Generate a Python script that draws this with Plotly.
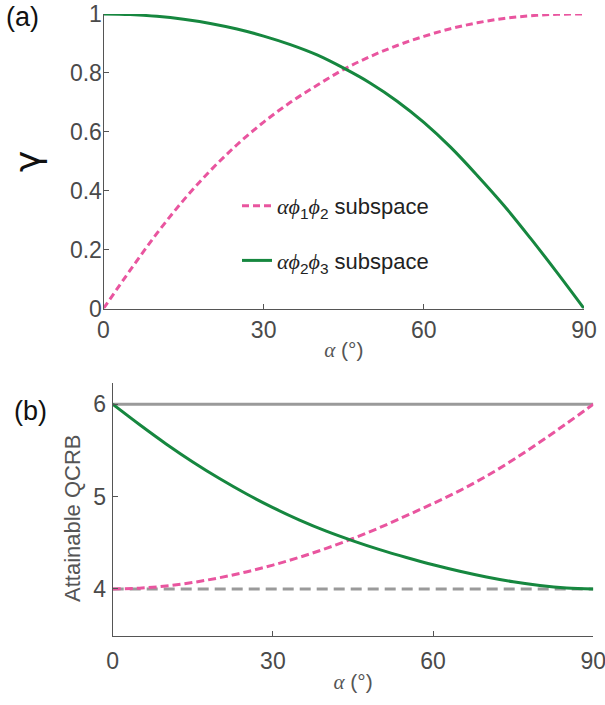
import plotly.graph_objects as go

# ---------------- data ----------------
alpha_deg = [0, 5, 10, 15, 20, 25, 30, 35, 40, 45, 50, 55, 60, 65, 70, 75, 80, 85, 90]

gamma_phi12 = [0.000, 0.130, 0.255, 0.368, 0.468, 0.556, 0.633, 0.700, 0.758, 0.812,
               0.856, 0.893, 0.924, 0.950, 0.970, 0.985, 0.994, 0.999, 1.000]
gamma_phi23 = [1.000, 0.998, 0.992, 0.982, 0.968, 0.949, 0.925, 0.896, 0.861, 0.816,
               0.765, 0.704, 0.632, 0.548, 0.452, 0.350, 0.238, 0.121, 0.000]

qcrb_phi12 = [4.000, 4.008, 4.032, 4.070, 4.121, 4.184, 4.258, 4.343, 4.439, 4.546,
              4.664, 4.793, 4.925, 5.065, 5.222, 5.398, 5.590, 5.792, 6.000]
qcrb_phi23 = [6.000, 5.780, 5.570, 5.375, 5.195, 5.030, 4.880, 4.745, 4.625, 4.520,
              4.425, 4.340, 4.262, 4.192, 4.130, 4.078, 4.038, 4.011, 4.000]

bound_alpha = [0, 90]
qcrb_upper = [6, 6]
qcrb_lower = [4, 4]

x_ticks = [0, 30, 60, 90]
gamma_ticks = [0, 0.2, 0.4, 0.6, 0.8, 1]
gamma_ticklabels = ["0", "0.2", "0.4", "0.6", "0.8", "1"]
qcrb_ticks = [4, 5, 6]

SERIF = "font-family:'Liberation Serif','DejaVu Serif',serif"
name_12 = (f"<span style=\"{SERIF}\"><i>α</i><i>ϕ</i></span><sub>1</sub>"
           f"<span style=\"{SERIF}\"><i>ϕ</i></span><sub>2</sub> subspace")
name_23 = (f"<span style=\"{SERIF}\"><i>α</i><i>ϕ</i></span><sub>2</sub>"
           f"<span style=\"{SERIF}\"><i>ϕ</i></span><sub>3</sub> subspace")
alpha_title = f"<span style=\"{SERIF}\"><i>α</i></span> (°)"

# ---------------- styles ----------------
PINK = "#E9559F"
GREEN = "#16873F"
GRAY = "#9A9A9A"
AXIS = "#555555"
SANS = "Liberation Sans, Arial, sans-serif"
TICKFONT = dict(family=SANS, size=23, color="#4a4a4a")

W, H = 605, 705

def px(x):
    return x / W

def py(y):
    return 1 - y / H

fig = go.Figure()

# top panel
fig.add_trace(go.Scatter(x=alpha_deg, y=gamma_phi12, mode="lines", name=name_12,
                         legendgroup="a",
                         line=dict(color=PINK, width=3, dash="7px,4px", shape="spline", smoothing=1),
                         xaxis="x", yaxis="y"))
fig.add_trace(go.Scatter(x=alpha_deg, y=gamma_phi23, mode="lines", name=name_23,
                         legendgroup="b",
                         line=dict(color=GREEN, width=3, shape="spline", smoothing=1),
                         xaxis="x", yaxis="y"))

# bottom panel
fig.add_trace(go.Scatter(x=bound_alpha, y=qcrb_upper, mode="lines", showlegend=False,
                         line=dict(color=GRAY, width=3), xaxis="x2", yaxis="y2"))
fig.add_trace(go.Scatter(x=bound_alpha, y=qcrb_lower, mode="lines", showlegend=False,
                         line=dict(color=GRAY, width=3, dash="11px,6px"), xaxis="x2", yaxis="y2"))
fig.add_trace(go.Scatter(x=alpha_deg, y=qcrb_phi12, mode="lines", showlegend=False,
                         line=dict(color=PINK, width=3, dash="8px,4px", shape="spline", smoothing=1),
                         xaxis="x2", yaxis="y2"))
fig.add_trace(go.Scatter(x=alpha_deg, y=qcrb_phi23, mode="lines", showlegend=False,
                         line=dict(color=GREEN, width=3, shape="spline", smoothing=1),
                         xaxis="x2", yaxis="y2"))

common_x = dict(range=[0, 90], tickvals=x_ticks, ticks="inside", ticklen=5, tickcolor=AXIS,
                showline=True, linecolor=AXIS, linewidth=1, showgrid=False, zeroline=False,
                tickfont=TICKFONT, automargin=False, ticklabeloverflow="allow")
common_y = dict(ticks="inside", ticklen=5, tickcolor=AXIS, showline=True, linecolor=AXIS,
                linewidth=1, showgrid=False, zeroline=False, tickfont=TICKFONT, automargin=False)

fig.update_layout(
    width=W, height=H,
    margin=dict(l=0, r=0, t=0, b=0),
    paper_bgcolor="white", plot_bgcolor="white",
    font=dict(family=SANS, color="#222222"),
    xaxis=dict(domain=[px(103.5), px(584)], anchor="y",
               title=dict(text=alpha_title, font=dict(size=21, color="#555555"), standoff=0),
               ticklabelstandoff=1, **common_x),
    yaxis=dict(domain=[py(308.5), py(14)], anchor="x", range=[0, 1],
               tickvals=gamma_ticks, ticktext=gamma_ticklabels,
               title=dict(text="γ", font=dict(size=36, color="#111111", family="DejaVu Sans"),
                          standoff=18),
               ticklabelstandoff=-4, **common_y),
    xaxis2=dict(domain=[px(112.7), px(593.3)], anchor="y2",
                title=dict(text=alpha_title, font=dict(size=21, color="#555555"), standoff=1),
                ticklabelstandoff=4, **common_x),
    yaxis2=dict(domain=[py(636), py(383)], anchor="x2", range=[3.49, 6.23],
                tickvals=qcrb_ticks, ticklabelstandoff=1, **common_y),
    showlegend=True,
    legend=dict(x=px(237), y=py(185), xanchor="left", yanchor="top",
                bgcolor="rgba(0,0,0,0)", borderwidth=0, tracegroupgap=23, itemwidth=30,
                font=dict(size=22, color="#222222", family=SANS)),
    annotations=[
        dict(text="(a)", x=px(22), y=py(17), xref="paper", yref="paper", showarrow=False,
             xanchor="center", yanchor="middle", font=dict(size=27, color="#111111")),
        dict(text="(b)", x=px(30), y=py(411), xref="paper", yref="paper", showarrow=False,
             xanchor="center", yanchor="middle", font=dict(size=27, color="#111111")),
        dict(text="Attainable QCRB", x=px(72), y=py(518), xref="paper", yref="paper",
             showarrow=False, textangle=-90, xanchor="center", yanchor="middle",
             font=dict(size=22, color="#555555")),
    ],
)

fig.write_html("out.html", config={"displayModeBar": False},
               post_script="document.body.style.margin='0';")
